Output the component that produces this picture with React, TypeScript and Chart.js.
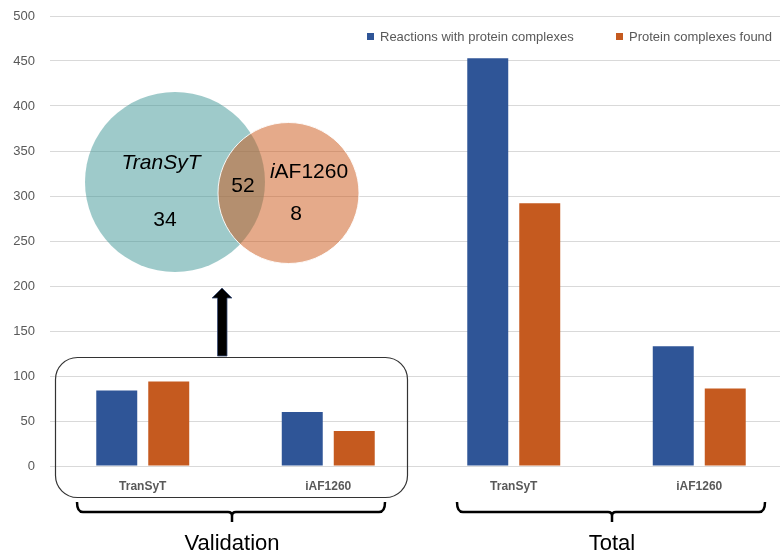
import React, { useEffect, useRef } from "react";
import { Chart, registerables } from "chart.js";

Chart.register(...registerables);

const categories = ["TranSyT", "iAF1260", "TranSyT", "iAF1260"];
const groupLabels = ["Validation", "Total"];
const seriesLabels = ["Reactions with protein complexes", "Protein complexes found"];
const reactionsWithComplexes = [84, 60, 453, 133];
const complexesFound = [94, 39, 292, 86];
const seriesColors = ["#2F5597", "#C55A1F"];
const yTicks = [0, 50, 100, 150, 200, 250, 300, 350, 400, 450, 500];
const vennSetLabels = ["TranSyT", "iAF1260"];
const vennCounts = [34, 52, 8];

const SANS = "'Liberation Sans', Arial, sans-serif";

const overlayPlugin = {
  id: "overlay",
  afterDatasetsDraw(chart: any) {
    const ctx: CanvasRenderingContext2D = chart.ctx;
    ctx.save();

    // Legend
    const ds = chart.data.datasets;
    const legendItems = [
      { x: 367, label: ds[0].label, color: ds[0].backgroundColor },
      { x: 616, label: ds[1].label, color: ds[1].backgroundColor },
    ];
    ctx.font = `13px ${SANS}`;
    ctx.textBaseline = "middle";
    ctx.textAlign = "left";
    for (const it of legendItems) {
      ctx.fillStyle = it.color;
      ctx.fillRect(it.x, 33, 7, 7);
      ctx.fillStyle = "#595959";
      ctx.fillText(it.label, it.x + 13, 37);
    }

    // Venn diagram
    ctx.beginPath();
    ctx.arc(175, 182, 90, 0, Math.PI * 2);
    ctx.fillStyle = "rgba(61,149,149,0.5)";
    ctx.fill();
    ctx.beginPath();
    ctx.arc(288.5, 193, 70.5, 0, Math.PI * 2);
    ctx.fillStyle = "rgba(203,85,21,0.5)";
    ctx.fill();
    ctx.strokeStyle = "rgba(255,255,255,0.9)";
    ctx.lineWidth = 1;
    ctx.stroke();

    ctx.fillStyle = "#000";
    ctx.textAlign = "center";
    ctx.textBaseline = "middle";
    ctx.font = `italic 21px ${SANS}`;
    ctx.fillText(vennSetLabels[0], 161, 163);
    // iAF1260 with italic i
    const rest = vennSetLabels[1].slice(1);
    ctx.font = `italic 21px ${SANS}`;
    const wi = ctx.measureText(vennSetLabels[1][0]).width;
    ctx.font = `21px ${SANS}`;
    const wr = ctx.measureText(rest).width;
    const startX = 309 - (wi + wr) / 2;
    ctx.textAlign = "left";
    ctx.font = `italic 21px ${SANS}`;
    ctx.fillText(vennSetLabels[1][0], startX, 172);
    ctx.font = `21px ${SANS}`;
    ctx.fillText(rest, startX + wi, 172);
    ctx.textAlign = "center";
    ctx.font = `21px ${SANS}`;
    ctx.fillText(String(vennCounts[0]), 165, 220);
    ctx.fillText(String(vennCounts[1]), 243, 186);
    ctx.fillText(String(vennCounts[2]), 296, 214);

    // Arrow
    ctx.beginPath();
    ctx.moveTo(217.5, 356);
    ctx.lineTo(217.5, 298);
    ctx.lineTo(212, 298);
    ctx.lineTo(222, 288);
    ctx.lineTo(232, 298);
    ctx.lineTo(227, 298);
    ctx.lineTo(227, 356);
    ctx.closePath();
    ctx.fillStyle = "#000";
    ctx.fill();
    ctx.strokeStyle = "#3B4E78";
    ctx.lineWidth = 0.8;
    ctx.stroke();

    // Rounded box around validation
    ctx.beginPath();
    (ctx as any).roundRect(55.5, 357.5, 352, 140, 22);
    ctx.strokeStyle = "#333";
    ctx.lineWidth = 1.2;
    ctx.stroke();

    // Braces
    const brace = (L: number, R: number, C: number) => {
      const top = 502, mid = 512, bot = 522;
      ctx.beginPath();
      ctx.moveTo(L, top);
      ctx.quadraticCurveTo(L, mid, L + 6, mid);
      ctx.lineTo(C - 4, mid);
      ctx.quadraticCurveTo(C, mid, C, mid + 4);
      ctx.lineTo(C, bot);
      ctx.moveTo(R, top);
      ctx.quadraticCurveTo(R, mid, R - 6, mid);
      ctx.lineTo(C + 4, mid);
      ctx.quadraticCurveTo(C, mid, C, mid + 4);
      ctx.strokeStyle = "#000";
      ctx.lineWidth = 2.5;
      ctx.stroke();
    };
    brace(77, 385, 232);
    brace(457, 765, 612);

    ctx.fillStyle = "#000";
    ctx.font = `22px ${SANS}`;
    ctx.textAlign = "center";
    ctx.textBaseline = "middle";
    ctx.fillText(groupLabels[0], 232, 544);
    ctx.fillText(groupLabels[1], 612, 544);

    ctx.restore();
  },
};

export default function App() {
  const ref = useRef<HTMLCanvasElement | null>(null);
  useEffect(() => {
    if (!ref.current) return;
    const chart = new Chart(ref.current, {
      type: "bar",
      data: {
        labels: categories,
        datasets: [
          {
            label: seriesLabels[0],
            data: reactionsWithComplexes,
            backgroundColor: seriesColors[0],
            borderWidth: 0,
            categoryPercentage: 0.5606,
            barPercentage: 0.788,
          },
          {
            label: seriesLabels[1],
            data: complexesFound,
            backgroundColor: seriesColors[1],
            borderWidth: 0,
            categoryPercentage: 0.5606,
            barPercentage: 0.788,
          },
        ],
      },
      options: {
        responsive: false,
        animation: false,
        devicePixelRatio: 1,
        layout: { padding: { left: 0, right: 8, top: 16, bottom: 0 } },
        plugins: {
          legend: { display: false },
          tooltip: { enabled: false },
        },
        scales: {
          x: {
            grid: { display: false, drawTicks: false },
            border: { display: false },
            ticks: {
              padding: 13,
              color: "#595959",
              font: { family: SANS, size: 12, weight: "bold" },
            },
            afterFit: (s: any) => {
              s.height = 90;
              s.paddingLeft = 0;
              s.paddingRight = 0;
            },
          },
          y: {
            min: 0,
            max: yTicks[yTicks.length - 1],
            afterBuildTicks: (s: any) => {
              s.ticks = yTicks.map((v) => ({ value: v }));
            },
            grid: { color: "#D9D9D9", lineWidth: 1, drawTicks: false },
            border: { display: false },
            ticks: {
              padding: 15,
              color: "#595959",
              font: { family: SANS, size: 13 },
            },
            afterFit: (s: any) => {
              s.width = 50;
              s.paddingTop = 0;
              s.paddingBottom = 0;
            },
          },
        },
      },
      plugins: [overlayPlugin],
    });
    return () => chart.destroy();
  }, []);
  return (
    <div
      style={{
        position: "fixed",
        left: 0,
        top: 0,
        width: 780,
        height: 556,
        overflow: "hidden",
        background: "#fff",
      }}
    >
      <canvas ref={ref} width={800} height={556} style={{ width: 800, height: 556, display: "block" }} />
    </div>
  );
}
